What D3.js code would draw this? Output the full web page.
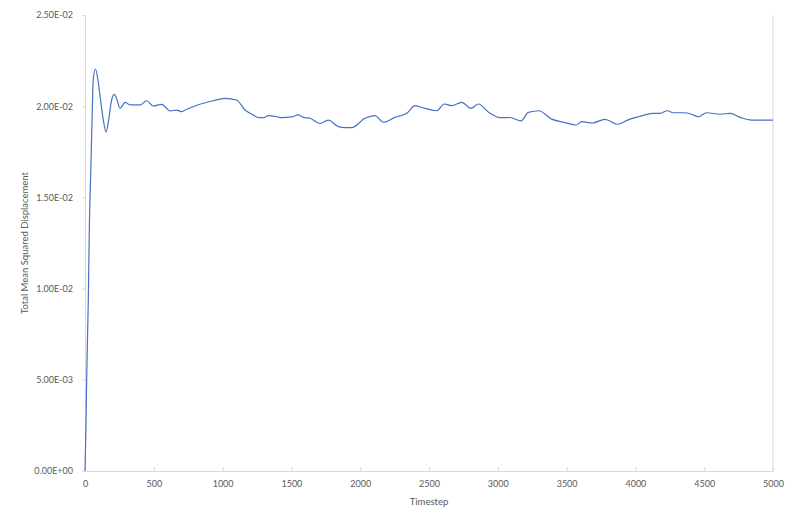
<!DOCTYPE html>
<html>
<head>
<meta charset="utf-8">
<script src="https://cdn.jsdelivr.net/npm/d3@7"></script>
<style>
  body { margin: 0; background: #fff; }
  svg { display: block; }
  text { font-family: Lato, "Open Sans", sans-serif; fill: #595959; }
</style>
</head>
<body>
<svg id="chart" width="800" height="525"></svg>
<script>
const timesteps = [0, 7, 12, 24, 31, 44, 53, 60, 76, 94, 113, 131, 153, 174, 193, 213, 233, 254, 291, 327, 400, 448, 496, 557, 618, 666, 703, 739, 799, 860, 932, 1017, 1102, 1163, 1223, 1260, 1296, 1332, 1393, 1430, 1502, 1550, 1587, 1635, 1708, 1768, 1841, 1890, 1938, 2035, 2108, 2168, 2253, 2338, 2398, 2471, 2556, 2611, 2665, 2738, 2805, 2858, 2943, 3016, 3089, 3169, 3222, 3299, 3392, 3474, 3568, 3610, 3688, 3779, 3870, 3943, 4021, 4070, 4130, 4179, 4232, 4275, 4348, 4409, 4457, 4518, 4615, 4688, 4760, 4845, 5000];
const msd = [0, 0.00241, 0.00499, 0.00937, 0.01305, 0.01705, 0.01979, 0.02144, 0.02204, 0.02144, 0.02034, 0.01935, 0.01859, 0.01935, 0.02034, 0.02065, 0.02034, 0.01988, 0.02021, 0.02007, 0.02007, 0.02030, 0.02001, 0.02010, 0.01974, 0.01979, 0.01970, 0.01983, 0.02001, 0.02016, 0.02030, 0.02043, 0.02034, 0.01979, 0.01952, 0.01937, 0.01937, 0.01948, 0.01942, 0.01937, 0.01941, 0.01952, 0.01939, 0.01934, 0.01906, 0.01924, 0.01888, 0.01882, 0.01882, 0.01934, 0.01948, 0.01912, 0.01939, 0.01961, 0.02003, 0.01988, 0.01975, 0.02012, 0.02003, 0.02021, 0.01988, 0.02012, 0.01961, 0.01937, 0.01938, 0.01919, 0.01966, 0.01975, 0.01929, 0.01913, 0.01897, 0.01915, 0.01908, 0.01928, 0.01901, 0.01924, 0.01942, 0.01952, 0.01961, 0.01961, 0.01975, 0.01964, 0.01964, 0.01956, 0.01942, 0.01964, 0.01956, 0.01961, 0.01939, 0.01924, 0.01924];
const xTicks = [0, 500, 1000, 1500, 2000, 2500, 3000, 3500, 4000, 4500, 5000];
const yTicks = [0, 0.005, 0.01, 0.015, 0.02, 0.025];
const xTitle = "Timestep";
const yTitle = "Total Mean Squared Displacement";

const svg = d3.select("#chart");
const pLeft = 85, pRight = 773, pTop = 15, pBottom = 471;
const x = d3.scaleLinear().domain([0, 5000]).range([pLeft, pRight]);
const y = d3.scaleLinear().domain([0, 0.025]).range([pBottom, pTop]);
const axisColor = "#D9D9D9";

// Y axis
const yAxis = svg.append("g").attr("transform", `translate(${pLeft},0)`)
  .call(d3.axisLeft(y).tickValues(yTicks).tickSize(3).tickPadding(9)
    .tickFormat(d => d === 0 ? "0.00E+00" : d.toExponential(2).toUpperCase().replace(/E([+-])(\d)$/, "E$10$2")));
yAxis.select(".domain").attr("stroke", axisColor);
yAxis.selectAll(".tick line").attr("stroke", axisColor);
yAxis.selectAll("text").style("font-size", "9px").attr("fill", "#595959");

// X axis
const xAxis = svg.append("g").attr("transform", `translate(0,${pBottom})`)
  .call(d3.axisBottom(x).tickValues(xTicks).tickSize(-4).tickPadding(10).tickFormat(d3.format("d")));
xAxis.select(".domain").attr("stroke", axisColor);
xAxis.selectAll(".tick line").attr("stroke", axisColor);
xAxis.selectAll("text").style("font-size", "9px").attr("fill", "#595959");

// Right frame line
svg.append("line").attr("x1", pRight).attr("x2", pRight).attr("y1", pTop).attr("y2", pBottom)
  .attr("stroke", axisColor);

// Data line
const data = timesteps.map((t, i) => [t, msd[i]]);
svg.append("path").datum(data)
  .attr("fill", "none").attr("stroke", "#4472C4").attr("stroke-width", 1.2)
  .attr("d", d3.line().x(d => x(d[0])).y(d => y(d[1])).curve(d3.curveMonotoneX));

// Titles
svg.append("text").attr("x", (pLeft + pRight) / 2).attr("y", 505)
  .attr("text-anchor", "middle").style("font-size", "9.5px").text(xTitle);
svg.append("text").attr("transform", `translate(28,${(pTop + pBottom) / 2}) rotate(-90)`)
  .attr("text-anchor", "middle").style("font-size", "9.5px").text(yTitle);
</script>
</body>
</html>
